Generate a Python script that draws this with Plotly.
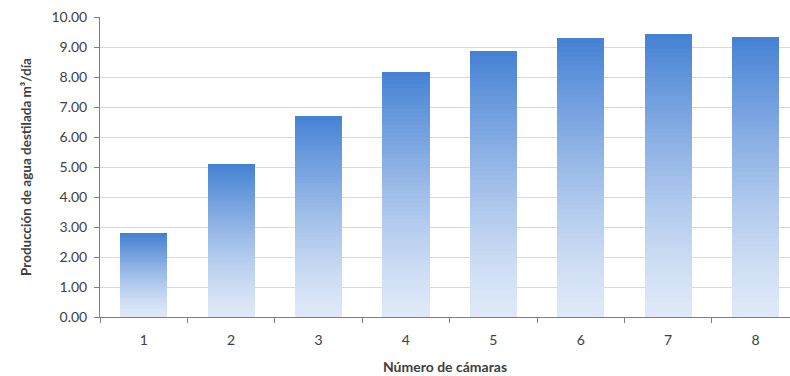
import plotly.graph_objects as go

# Daily distilled-water output by number of chambers
camaras = ["1", "2", "3", "4", "5", "6", "7", "8"]
produccion = [2.78, 5.10, 6.69, 8.17, 8.86, 9.30, 9.42, 9.33]
y_ticks = [0, 1, 2, 3, 4, 5, 6, 7, 8, 9, 10]
y_ticktext = [f"{v:.2f}" for v in y_ticks]

# Vertical gradient for the bars: light at the base, saturated blue at the top
base_rgb = (222, 232, 248)
top_rgb = (70, 130, 212)
n_bands = 60


def band_color(k):
    t = (k / (n_bands - 1)) ** 1.3
    r, g, b = (round(base_rgb[i] + (top_rgb[i] - base_rgb[i]) * t) for i in range(3))
    return f"rgb({r},{g},{b})"


fig = go.Figure()
for k in range(n_bands):
    fig.add_trace(go.Bar(
        x=camaras,
        y=[v / n_bands for v in produccion],
        marker=dict(color=band_color(k), line=dict(width=0)),
        showlegend=False,
        hoverinfo="skip",
    ))

font_family = "Lato, 'Open Sans', sans-serif"
text_color = "#404040"

fig.update_layout(
    width=790,
    height=376,
    margin=dict(l=100, r=0, t=17, b=59),
    barmode="stack",
    bargap=0.46,
    plot_bgcolor="white",
    paper_bgcolor="white",
    font=dict(family=font_family, size=14, color=text_color),
)

fig.update_xaxes(
    type="category",
    range=[-0.5, 7.394],
    showgrid=False,
    showline=True,
    linecolor="#7f7f7f",
    linewidth=1,
    ticks="outside",
    tickson="boundaries",
    ticklen=5,
    tickcolor="#7f7f7f",
    ticklabelstandoff=10,
    tickfont=dict(size=14, color=text_color),
    title=dict(text="<b>Número de cámaras</b>", font=dict(size=14, color=text_color), standoff=15),
)

fig.update_yaxes(
    range=[0, 10],
    tickvals=y_ticks,
    ticktext=y_ticktext,
    showgrid=True,
    gridcolor="#d9d9d9",
    gridwidth=1,
    zeroline=False,
    showline=True,
    linecolor="#7f7f7f",
    linewidth=1,
    ticks="outside",
    ticklen=5,
    tickcolor="#7f7f7f",
    ticklabelstandoff=4,
    tickfont=dict(size=14, color=text_color),
    title=dict(text="<b>Producción de agua destilada m³/día</b>", font=dict(size=13.5, color=text_color), standoff=16),
)

fig.write_html("out.html")
